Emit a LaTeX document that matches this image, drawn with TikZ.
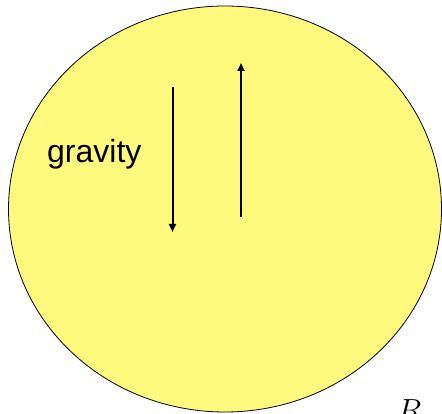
\documentclass[tikz,border=0pt]{standalone}
\usepackage{fix-cm}
\usepackage{fontspec}
\setsansfont{Liberation Sans}
\usepackage{tikz}
\usetikzlibrary{shapes.geometric, arrows.meta}
\definecolor{planetyellow}{RGB}{255,250,125}
\tikzset{
  planet/.style  = {ellipse, draw, line width=0.8pt, fill=planetyellow,
                    minimum width=433pt, minimum height=406pt, inner sep=0pt},
  label/.style   = {font=\fontsize{32}{36}\selectfont\sffamily, inner sep=0pt},
  force/.style   = {-{Stealth[length=8pt,width=7pt,inset=0pt]}, line width=2pt}
}
\begin{document}
\begin{tikzpicture}[x=1pt, y=1pt]
  \useasboundingbox (0,0) rectangle (442,414);
  \node[planet] (earth) at (225,205) {};
  % forces inside the planet
  \coordinate (downtop) at (172.5,327);
  \coordinate (downend) at (172.5,182);
  \coordinate (upbot)   at (241,197);
  \coordinate (uptop)   at (241,351);
  \draw[force] (downtop) -- (downend);
  \draw[force] (upbot) -- (uptop);
  \node[label, anchor=base west] (grav) at (47,251) {gravity};
  \node[inner sep=0pt, anchor=base west, font=\fontsize{32}{36}\selectfont] (rad) at (397,-8) {$R$};
\end{tikzpicture}
\end{document}
